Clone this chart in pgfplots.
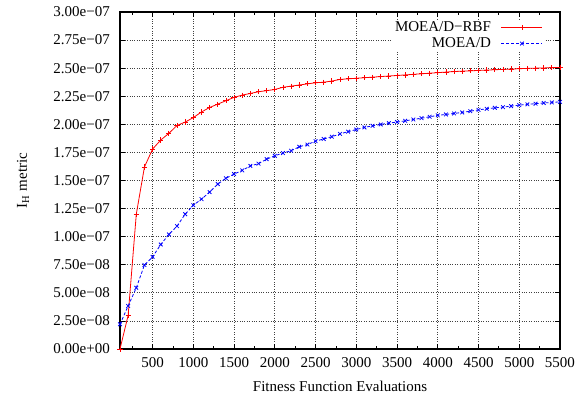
\documentclass[border=0pt]{standalone}
\usepackage{pgfplots}
\pgfplotsset{compat=1.18}
\usepackage{fontspec}
\setmainfont{Liberation Serif}
\begin{document}
\fontsize{15bp}{18bp}\selectfont
\begin{tikzpicture}
\begin{axis}[
  scale only axis,
  width=440bp, height=337bp,
  xmin=100, xmax=5500, ymin=0, ymax=3e-7,
  clip=false,
  axis line style={black, line width=1.1bp},
  xtick={500,1000,1500,2000,2500,3000,3500,4000,4500,5000,5500},
  xticklabels={500,1000,1500,2000,2500,3000,3500,4000,4500,5000,5500},
  minor xtick={250,750,1250,1750,2250,2750,3250,3750,4250,4750,5250},
  ytick={0,2.5e-8,5e-8,7.5e-8,1e-7,1.25e-7,1.5e-7,1.75e-7,2e-7,2.25e-7,2.5e-7,2.75e-7,3e-7},
  yticklabels={0.00e+00,2.50e−08,5.00e−08,7.50e−08,1.00e−07,1.25e−07,1.50e−07,1.75e−07,2.00e−07,2.25e−07,2.50e−07,2.75e−07,3.00e−07},
  scaled y ticks=false,
  major tick length=5bp, minor tick length=3bp,
  every tick/.style={black, line width=0.8bp},
  tick align=inside,
  xticklabel style={yshift=-3bp},
  yticklabel style={xshift=-5bp},
  grid=major,
  major grid style={black!75, dotted, line width=0.7bp},
  every axis x label/.style={at={(axis description cs:0.5,-0.1276)}, anchor=base},
  every axis y label/.style={at={(axis description cs:-0.2114,0.5)}, rotate=90, anchor=base},
  xlabel={Fitness Function Evaluations},
  ylabel={I\textsubscript{H} metric},
  legend cell align=right,
  legend plot pos=right,
  legend style={at={(axis description cs:0.966,0.978)}, anchor=north east, draw=none, fill=white,
    inner xsep=2bp, inner ysep=1bp, row sep=2bp,
    nodes={inner sep=1bp, text height=10bp, text depth=2bp}},
  legend image code/.code={\path (0bp,-3bp) (0bp,3bp); \draw[mark repeat=2,mark phase=2,#1] plot coordinates {(9bp,0bp) (29.5bp,0bp) (50bp,0bp)};},
]
\addplot[red, line width=0.8bp, mark=+, mark size=2.6bp, mark options={solid, line width=0.8bp}] coordinates {
(100,0) (200,3.0e-8) (300,1.2e-7) (400,1.62e-7) (500,1.78e-7) (600,1.86e-7) (700,1.92e-7) (800,1.99e-7) (900,2.02e-7) (1000,2.06e-7)
(1100,2.11e-7) (1200,2.15e-7) (1300,2.18e-7) (1400,2.21e-7) (1500,2.24e-7) (1600,2.26e-7) (1700,2.275e-7) (1800,2.29e-7) (1900,2.30e-7) (2000,2.31e-7)
(2100,2.33e-7) (2200,2.34e-7) (2300,2.35e-7) (2400,2.36e-7) (2500,2.37e-7) (2600,2.375e-7) (2700,2.385e-7) (2800,2.40e-7) (2900,2.405e-7) (3000,2.41e-7)
(3100,2.415e-7) (3200,2.42e-7) (3300,2.425e-7) (3400,2.43e-7) (3500,2.435e-7) (3600,2.44e-7) (3700,2.445e-7) (3800,2.45e-7) (3900,2.455e-7) (4000,2.46e-7)
(4100,2.465e-7) (4200,2.47e-7) (4300,2.473e-7) (4400,2.476e-7) (4500,2.48e-7) (4600,2.483e-7) (4700,2.486e-7) (4800,2.489e-7) (4900,2.492e-7) (5000,2.495e-7)
(5100,2.498e-7) (5200,2.50e-7) (5300,2.502e-7) (5400,2.504e-7) (5500,2.506e-7)
};
\addlegendentry{MOEA/D−RBF}
\addplot[blue, line width=0.8bp, dash pattern=on 3bp off 2bp, mark=x, mark size=2.6bp, mark options={solid, line width=0.8bp}] coordinates {
(100,2.2e-8) (200,3.83e-8) (300,5.45e-8) (400,7.47e-8) (500,8.2e-8) (600,9.3e-8) (700,1.02e-7) (800,1.094e-7) (900,1.20e-7) (1000,1.28e-7)
(1100,1.334e-7) (1200,1.397e-7) (1300,1.468e-7) (1400,1.52e-7) (1500,1.557e-7) (1600,1.59e-7) (1700,1.63e-7) (1800,1.65e-7) (1900,1.69e-7) (2000,1.72e-7)
(2100,1.744e-7) (2200,1.765e-7) (2300,1.80e-7) (2400,1.82e-7) (2500,1.85e-7) (2600,1.87e-7) (2700,1.89e-7) (2800,1.915e-7) (2900,1.935e-7) (3000,1.954e-7)
(3100,1.972e-7) (3200,1.987e-7) (3300,1.999e-7) (3400,2.011e-7) (3500,2.020e-7) (3600,2.031e-7) (3700,2.043e-7) (3800,2.055e-7) (3900,2.067e-7) (4000,2.08e-7)
(4100,2.088e-7) (4200,2.097e-7) (4300,2.106e-7) (4400,2.117e-7) (4500,2.129e-7) (4600,2.138e-7) (4700,2.147e-7) (4800,2.153e-7) (4900,2.162e-7) (5000,2.171e-7)
(5100,2.178e-7) (5200,2.184e-7) (5300,2.19e-7) (5400,2.195e-7) (5500,2.20e-7)
};
\addlegendentry{MOEA/D}
\end{axis}
\path (current axis.south west) ++(-120bp,-46bp) rectangle ++(582bp,395bp);
\end{tikzpicture}
\end{document}
